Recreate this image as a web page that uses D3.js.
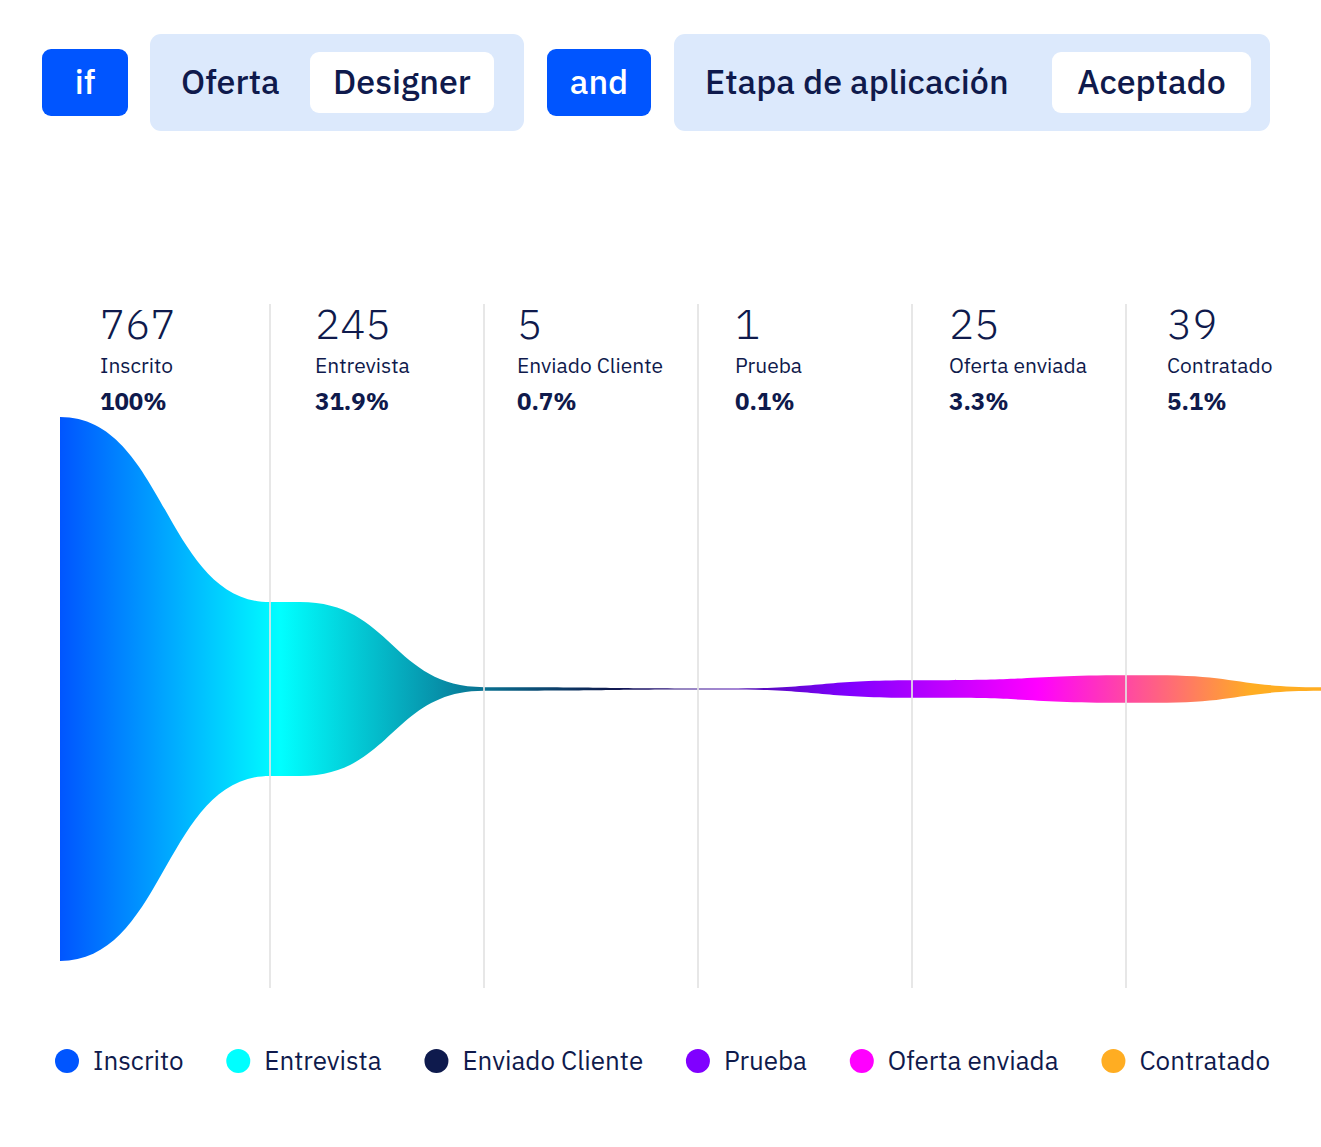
<!DOCTYPE html>
<html>
<head>
    <title>Funnel</title>
    <script src="https://d3js.org/d3.v7.min.js"></script>
    <style>
        body { margin: 0; background: #fff; }
        text { font-family: "IBM Plex Sans", Roboto, sans-serif; }
    </style>
</head>
<body>
<svg width="1321" height="1147" id="mainSvg"></svg>
<script>
    // data
    const stages = ["Inscrito", "Entrevista", "Enviado Cliente", "Prueba", "Oferta enviada", "Contratado"];
    const counts = [767, 245, 5, 1, 25, 39];
    const tailValue = 5; // width the shape narrows to at the right edge
    const colors = ["#0055ff", "#00ffff", "#0e1a4d", "#8000ff", "#ff00ff", "#ffad22"];
    const connectors = ["if", "and"];
    const filterFields = ["Oferta", "Etapa de aplicación"];
    const filterValues = ["Designer", "Aceptado"];

    const svg = d3.select("#mainSvg");
    const W = +svg.attr("width");
    const navy = "#0f1a4c";
    const blue = "#0055ff";

    // ---- filter bar ----
    const bar = svg.append("g");
    const connBoxes = [{x: 42, w: 86}, {x: 547, w: 104}];
    const fieldBoxes = [{x: 150, w: 374, vx: 310, vw: 184}, {x: 674, w: 596, vx: 1052, vw: 199}];

    connectors.forEach((c, i) => {
        const b = connBoxes[i];
        bar.append("rect").attr("x", b.x).attr("y", 49).attr("width", b.w).attr("height", 67)
            .attr("rx", 9).attr("fill", blue);
        bar.append("text").attr("x", b.x + b.w / 2).attr("y", 94).attr("text-anchor", "middle")
            .attr("fill", "#fff").attr("font-size", 34).attr("font-weight", 500).text(c);
    });
    filterFields.forEach((f, i) => {
        const b = fieldBoxes[i];
        bar.append("rect").attr("x", b.x).attr("y", 34).attr("width", b.w).attr("height", 97)
            .attr("rx", 11).attr("fill", "#dce9fc");
        bar.append("text").attr("x", b.x + 31).attr("y", 94)
            .attr("fill", navy).attr("font-size", 34).attr("font-weight", 500).text(f);
        bar.append("rect").attr("x", b.vx).attr("y", 52).attr("width", b.vw).attr("height", 61)
            .attr("rx", 9).attr("fill", "#fff");
        bar.append("text").attr("x", b.vx + b.vw / 2).attr("y", 94).attr("text-anchor", "middle")
            .attr("fill", navy).attr("font-size", 34).attr("font-weight", 500).text(filterValues[i]);
    });

    // ---- funnel ----
    const left = 60, centerY = 689, flat = 30;
    const xScale = d3.scaleLinear().domain([1, 5]).range([270, 1126]);
    const hScale = d3.scaleLinear().domain([0, d3.max(counts)]).range([0, 544]);
    const stageX = i => i === 0 ? left : xScale(i);

    let pts = [];
    counts.forEach((v, i) => {
        pts.push({x: stageX(i), v: v});
        if (i > 0) pts.push({x: stageX(i) + flat, v: v});
    });
    pts.push({x: W, v: tailValue});

    const defs = svg.append("defs");
    const grad = defs.append("linearGradient").attr("id", "funnelGrad")
        .attr("gradientUnits", "userSpaceOnUse")
        .attr("x1", left).attr("x2", W).attr("y1", 0).attr("y2", 0);
    const stopAt = [0, 0.175, 0.435, 0.625, 0.775, 0.945];
    colors.forEach((c, i) => {
        grad.append("stop").attr("offset", stopAt[i]).attr("stop-color", c);
    });

    const area = d3.area()
        .x(d => d.x)
        .y0(d => centerY + Math.max(hScale(d.v), 1.2) / 2)
        .y1(d => centerY - Math.max(hScale(d.v), 1.2) / 2)
        .curve(d3.curveBumpX);

    svg.append("path").datum(pts)
        .attr("d", area)
        .attr("fill", "url(#funnelGrad)");

    // dividers (drawn over the shape)
    svg.append("g").selectAll("line").data(d3.range(1, stages.length)).join("line")
        .attr("x1", d => xScale(d)).attr("x2", d => xScale(d))
        .attr("y1", 304).attr("y2", 988)
        .attr("stroke", "#e3e3e3").attr("stroke-opacity", 0.85).attr("stroke-width", 2);

    // stage headers
    const headerX = [100, 315, 517, 735, 949, 1167];
    const pct = (v, i) => i === 0 ? "100%" : d3.format(".1f")(v / counts[0] * 100) + "%";
    const headers = svg.append("g").selectAll("g").data(stages).join("g")
        .attr("transform", (d, i) => `translate(${headerX[i]}, 0)`);
    headers.append("text").attr("y", 339).attr("font-size", 42).attr("font-weight", 300)
        .attr("fill", navy).text((d, i) => counts[i]);
    headers.append("text").attr("y", 373).attr("font-size", 21)
        .attr("fill", navy).text(d => d);
    headers.append("text").attr("y", 410).attr("font-size", 24).attr("font-weight", 700)
        .attr("fill", navy).text((d, i) => pct(counts[i], i));

    // ---- legend (spread between 55 and 1270) ----
    const legend = svg.append("g");
    const items = legend.selectAll("g").data(stages).join("g");
    items.append("circle").attr("r", 12).attr("cx", 12).attr("cy", 1061)
        .attr("fill", (d, i) => colors[i]);
    items.append("text").attr("x", 38).attr("y", 1070).attr("font-size", 26)
        .attr("fill", navy).text(d => d);
    const widths = items.nodes().map(n => n.getBBox().width);
    const total = d3.sum(widths);
    const gap = (1270 - 55 - total) / (stages.length - 1);
    let cx = 55;
    items.attr("transform", (d, i) => {
        const t = `translate(${cx}, 0)`;
        cx += widths[i] + gap;
        return t;
    });
</script>
</body>
</html>
